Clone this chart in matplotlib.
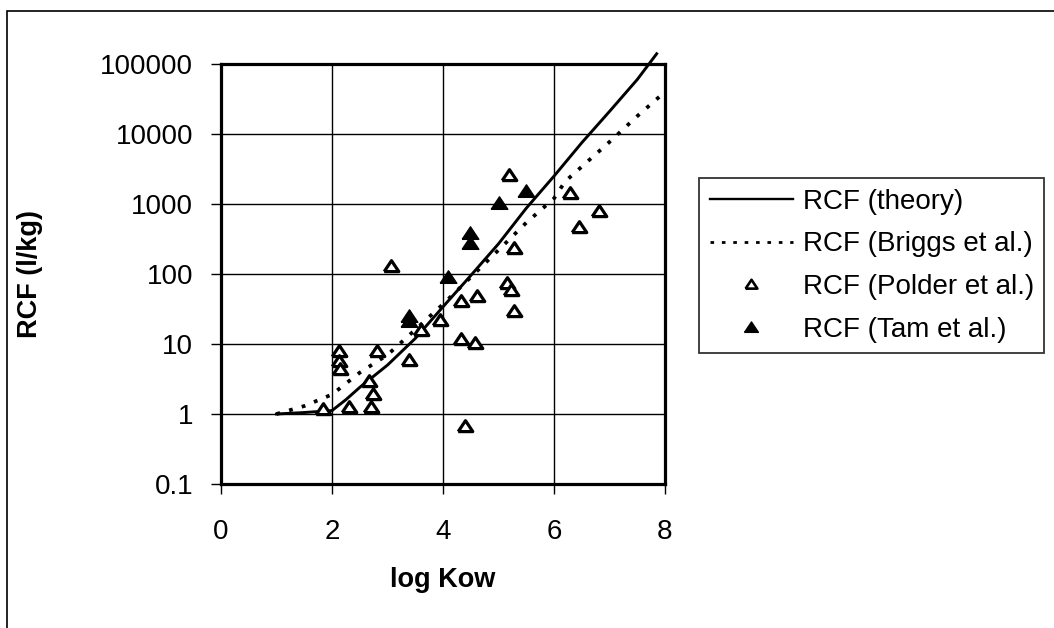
import matplotlib
matplotlib.use("Agg")
import matplotlib.pyplot as plt
from matplotlib.lines import Line2D
from matplotlib.ticker import FixedLocator, FixedFormatter

plt.rcParams['font.family'] = ['Liberation Sans', 'DejaVu Sans']

# model curves
theory_x = [1.0, 1.5, 2.0, 2.25, 2.5, 3.0, 3.5, 4.0, 4.5, 5.0, 5.5, 6.0, 6.5, 7.0, 7.5, 7.85]
theory_y = [1.0, 1.05, 1.12, 1.6, 2.4, 5.0, 12, 34, 95, 270, 870, 2500, 7500, 21000, 60000, 140000]

briggs_x = [1.0, 1.5, 2.0, 2.5, 3.0, 3.5, 4.0, 4.5, 5.0, 5.5, 6.0, 6.2, 6.4, 7.0, 7.5, 8.0]
briggs_y = [1.0, 1.3, 1.9, 3.9, 7.0, 16, 37, 90, 220, 540, 1200, 2100, 2900, 7700, 18000, 40000]

# measured data
polder_x = [1.84, 2.13, 2.13, 2.15, 2.30, 2.67, 2.70, 2.73, 2.81, 3.07, 3.39, 3.61, 3.94,
            4.32, 4.32, 4.40, 4.58, 4.61, 5.16, 5.19, 5.22, 5.28, 5.28, 6.28, 6.45, 6.81]
polder_y = [1.17, 8.0, 5.8, 4.4, 1.27, 3.0, 1.27, 1.9, 8.0, 128, 5.9, 16, 22,
            41, 11.7, 0.68, 10.3, 49, 74, 2570, 60, 30, 235, 1420, 470, 790]

tam_x = [3.39, 3.39, 4.09, 4.49, 4.49, 5.00, 5.49]
tam_y = [25, 21, 92, 390, 280, 1020, 1520]

yticks = [0.1, 1, 10, 100, 1000, 10000, 100000]
ytick_labels = ["0.1", "1", "10", "100", "1000", "10000", "100000"]

# flat triangle like the excel marker
tri = [(-1, -0.7), (1, -0.7), (0, 0.8), (-1, -0.7)]

W, H = 1054, 628
fig = plt.figure(figsize=(W / 100, H / 100), dpi=100)
ax = fig.add_axes([221 / W, 1 - 484 / H, (665 - 221) / W, (484 - 64) / H])

ax.plot(theory_x, theory_y, color='black', lw=2.1, clip_on=False, zorder=3)
ax.plot(briggs_x, briggs_y, color='black', lw=2.7, ls=(0, (1, 2.5)), zorder=3)
ax.plot(polder_x, polder_y, ls='none', marker=tri, ms=10.5, mfc='white', mec='black', mew=2.3,
        zorder=4)
ax.plot(tam_x, tam_y, ls='none', marker=tri, ms=12, mfc='black', mec='black', zorder=4)

ax.set_yscale('log')
ax.set_xlim(0, 8)
ax.set_ylim(0.1, 100000)
ax.set_xticks([0, 2, 4, 6, 8])
ax.yaxis.set_major_locator(FixedLocator(yticks))
ax.yaxis.set_major_formatter(FixedFormatter(ytick_labels))
ax.yaxis.set_minor_locator(FixedLocator([]))
ax.grid(True, color='black', lw=1)
ax.set_axisbelow(True)
ax.tick_params(direction='out', length=7, width=1, labelsize=20, colors='black')
ax.tick_params(axis='y', pad=13)
ax.tick_params(axis='x', pad=18)
for s in ax.spines.values():
    s.set_linewidth(2.3)

fig.text(443 / W, 1 - 587 / H, 'log Kow', fontsize=19.5, fontweight='bold',
         ha='center', va='baseline')
fig.text(30 / W, 1 - 274 / H, 'RCF (l/kg)', fontsize=19.5, fontweight='bold',
         rotation=90, ha='center', va='center')

handles = [
    Line2D([], [], color='black', lw=1.7),
    Line2D([], [], color='black', lw=2, ls=(0, (1.3, 2.8))),
    Line2D([], [], ls='none', marker=tri, ms=8.5, mfc='white', mec='black', mew=1.9),
    Line2D([], [], ls='none', marker=tri, ms=10, mfc='black', mec='black'),
]
labels = ['RCF (theory)', 'RCF (Briggs et al.)', 'RCF (Polder et al.)', 'RCF (Tam et al.)']
leg = fig.legend(handles, labels, loc='upper left', bbox_to_anchor=(699 / W, 1 - 178 / H),
                 fontsize=20, frameon=True, fancybox=False, edgecolor='black',
                 handlelength=3.0, borderpad=0.38, labelspacing=0.6, handletextpad=0.35,
                 borderaxespad=0)
leg.get_frame().set_linewidth(1.3)

# outer chart border
fig.add_artist(plt.Rectangle((7 / W, -0.01), 1.0, 1 - 11 / H + 0.01, transform=fig.transFigure,
                             fill=False, edgecolor='black', lw=1.2))

fig.savefig('out.png', dpi=100)
